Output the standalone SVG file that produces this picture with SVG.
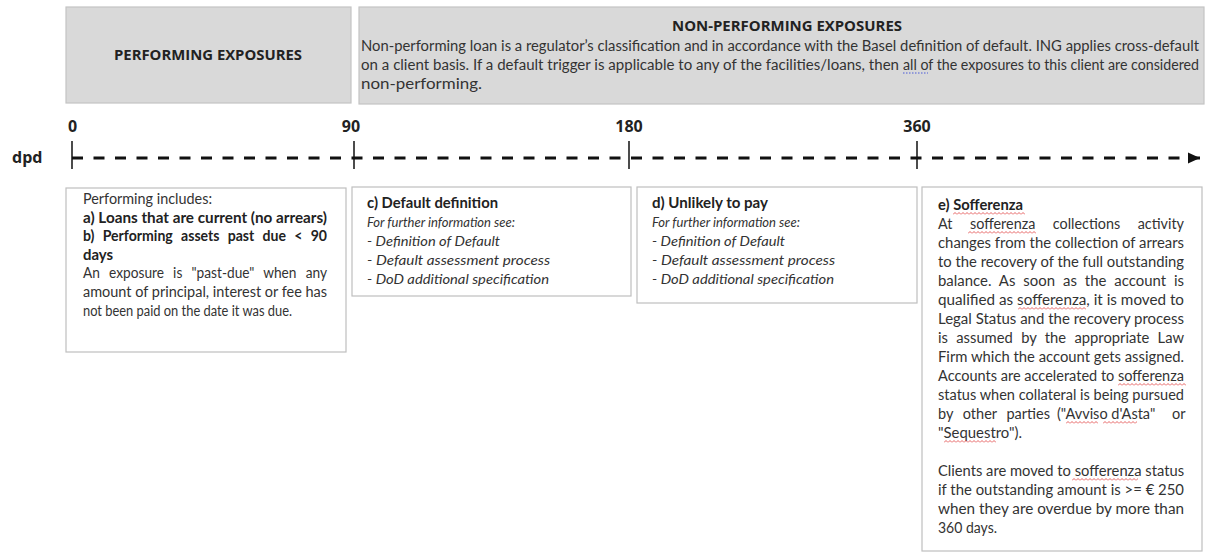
<svg xmlns="http://www.w3.org/2000/svg" width="1206" height="553" viewBox="0 0 1206 553">
<style>
.bg{fill:#ffffff}
.hdr{fill:#d9d9d9;stroke:#c4c4c4;stroke-width:1.2}
.box{fill:#ffffff;stroke:#bfbfbf;stroke-width:1.2}
text{font-family:Lato,"Open Sans","Liberation Sans",sans-serif;fill:#333333;font-size:14.5px}
.ttl{font-family:"Open Sans",Lato,sans-serif;font-weight:700;fill:#222;font-size:13.5px}
.b{font-weight:700;fill:#222}
.i{font-style:italic;font-size:13.5px}
.ax{font-family:"Open Sans",Lato,sans-serif;font-weight:700;fill:#222;font-size:16px}
.tick{stroke:#111;stroke-width:1.5}
.dash{stroke:#111;stroke-width:3;stroke-dasharray:11 10.5;fill:none}
</style>
<defs>
<marker id="arrow" markerUnits="userSpaceOnUse" markerWidth="13" markerHeight="12" refX="12" refY="6" orient="auto">
<path d="M0 0.5 L12 6 L0 11.5 Z" fill="#111"/>
</marker>
<pattern id="wavy" width="4" height="3" patternUnits="userSpaceOnUse">
<path d="M0 2.5 L2 0.5 L4 2.5" fill="none" stroke="#e03a3a" stroke-width="0.8"/>
</pattern>
</defs>
<rect class="bg" x="0" y="0" width="1206" height="553"/>

<g id="performing-header">
<rect class="hdr" x="66" y="7" width="285" height="96"/>
<text class="ttl" x="208" y="60" text-anchor="middle" textLength="188" lengthAdjust="spacingAndGlyphs">PERFORMING EXPOSURES</text>
</g>

<g id="nonperforming-header">
<rect class="hdr" x="359" y="7" width="845" height="97"/>
<text class="ttl" x="787" y="31" text-anchor="middle" textLength="230" lengthAdjust="spacingAndGlyphs">NON-PERFORMING EXPOSURES</text>
<text x="361" y="51" textLength="838" lengthAdjust="spacingAndGlyphs">Non-performing loan is a regulator’s classification and in accordance with the Basel definition of default. ING applies cross-default</text>
<text y="70"><tspan x="361" textLength="538" lengthAdjust="spacingAndGlyphs">on a client basis. If a default trigger is applicable to any of the facilities/loans, then</tspan><tspan x="903" textLength="296" lengthAdjust="spacingAndGlyphs">all of the exposures to this client are considered</tspan></text>
<text x="361" y="89" textLength="121" lengthAdjust="spacingAndGlyphs">non-performing.</text>
<line x1="903" y1="73" x2="928" y2="73" stroke="#4a5ad8" stroke-width="1" stroke-dasharray="1.5 1.5"/>
</g>

<g id="connectors">
<text class="ax" x="12" y="163">dpd</text>
<line class="dash" x1="72" y1="158" x2="1200" y2="158" marker-end="url(#arrow)"/>
<line class="tick" x1="72" y1="141" x2="72" y2="169"/>
<line class="tick" x1="354" y1="141" x2="354" y2="169"/>
<line class="tick" x1="629" y1="141" x2="629" y2="169"/>
<line class="tick" x1="917" y1="141" x2="917" y2="169"/>
<text class="ax" x="68" y="132">0</text>
<text class="ax" x="351" y="132" text-anchor="middle">90</text>
<text class="ax" x="629" y="132" text-anchor="middle">180</text>
<text class="ax" x="917" y="132" text-anchor="middle">360</text>
</g>

<g id="box-a">
<rect class="box" x="66" y="188" width="280" height="164"/>
<text x="83" y="204" textLength="129" lengthAdjust="spacingAndGlyphs">Performing includes:</text>
<text class="b" x="83" y="222.6" textLength="244" lengthAdjust="spacingAndGlyphs">a) Loans that are current (no arrears)</text>
<text class="b" x="83" y="241.2" word-spacing="5" textLength="244" lengthAdjust="spacingAndGlyphs">b) Performing assets past due &lt; 90</text>
<text class="b" x="83" y="259.8" textLength="30" lengthAdjust="spacingAndGlyphs">days</text>
<text x="83" y="278.4" word-spacing="6" textLength="244" lengthAdjust="spacingAndGlyphs">An exposure is "past-due" when any</text>
<text x="83" y="297" textLength="244" lengthAdjust="spacingAndGlyphs">amount of principal, interest or fee has</text>
<text x="83" y="315.6" textLength="209" lengthAdjust="spacingAndGlyphs">not been paid on the date it was due.</text>
</g>

<g id="box-c">
<rect class="box" x="352" y="187" width="279" height="109"/>
<text class="b" x="367" y="208" textLength="131" lengthAdjust="spacingAndGlyphs">c) Default definition</text>
<text class="i" x="367" y="227" textLength="148" lengthAdjust="spacingAndGlyphs">For further information see:</text>
<text class="i" x="367" y="246" textLength="133" lengthAdjust="spacingAndGlyphs">- Definition of Default</text>
<text class="i" x="367" y="265" textLength="183" lengthAdjust="spacingAndGlyphs">- Default assessment process</text>
<text class="i" x="367" y="284" textLength="182" lengthAdjust="spacingAndGlyphs">- DoD additional specification</text>
</g>

<g id="box-d">
<rect class="box" x="637" y="187" width="280" height="116"/>
<text class="b" x="652" y="208" textLength="116" lengthAdjust="spacingAndGlyphs">d) Unlikely to pay</text>
<text class="i" x="652" y="227" textLength="148" lengthAdjust="spacingAndGlyphs">For further information see:</text>
<text class="i" x="652" y="246" textLength="133" lengthAdjust="spacingAndGlyphs">- Definition of Default</text>
<text class="i" x="652" y="265" textLength="183" lengthAdjust="spacingAndGlyphs">- Default assessment process</text>
<text class="i" x="652" y="284" textLength="182" lengthAdjust="spacingAndGlyphs">- DoD additional specification</text>
</g>

<g id="box-e">
<rect class="box" x="922" y="187" width="280" height="364"/>
<text class="b" x="938" y="210" textLength="85" lengthAdjust="spacingAndGlyphs">e) Sofferenza</text>
<text x="938" y="229" word-spacing="14" textLength="246" lengthAdjust="spacingAndGlyphs">At sofferenza collections activity</text>
<text x="938" y="248" textLength="246" lengthAdjust="spacingAndGlyphs">changes from the collection of arrears</text>
<text x="938" y="267" textLength="246" lengthAdjust="spacingAndGlyphs">to the recovery of the full outstanding</text>
<text x="938" y="286" word-spacing="4" textLength="246" lengthAdjust="spacingAndGlyphs">balance. As soon as the account is</text>
<text x="938" y="305" textLength="246" lengthAdjust="spacingAndGlyphs">qualified as sofferenza, it is moved to</text>
<text x="938" y="324" textLength="246" lengthAdjust="spacingAndGlyphs">Legal Status and the recovery process</text>
<text x="938" y="343" word-spacing="4.5" textLength="246" lengthAdjust="spacingAndGlyphs">is assumed by the appropriate Law</text>
<text x="938" y="362" textLength="246" lengthAdjust="spacingAndGlyphs">Firm which the account gets assigned.</text>
<text x="938" y="381" textLength="246" lengthAdjust="spacingAndGlyphs">Accounts are accelerated to sofferenza</text>
<text x="938" y="400" textLength="246" lengthAdjust="spacingAndGlyphs">status when collateral is being pursued</text>
<text y="419"><tspan x="938" word-spacing="6">by other parties</tspan><tspan x="1057">("Avviso d'Asta"</tspan><tspan x="1172">or</tspan></text>
<text x="938" y="438" textLength="84" lengthAdjust="spacingAndGlyphs">"Sequestro").</text>
<text x="938" y="476" textLength="246" lengthAdjust="spacingAndGlyphs">Clients are moved to sofferenza status</text>
<text x="938" y="495" textLength="246" lengthAdjust="spacingAndGlyphs">if the outstanding amount is &gt;= € 250</text>
<text x="938" y="514" textLength="246" lengthAdjust="spacingAndGlyphs">when they are overdue by more than</text>
<text x="938" y="533" textLength="59" lengthAdjust="spacingAndGlyphs">360 days.</text>
<rect transform="translate(953,212)" width="72" height="3" fill="url(#wavy)"/>
<rect transform="translate(968,231)" width="68" height="3" fill="url(#wavy)"/>
<rect transform="translate(1018,307)" width="68" height="3" fill="url(#wavy)"/>
<rect transform="translate(1118,383)" width="68" height="3" fill="url(#wavy)"/>
<rect transform="translate(1066,421)" width="32" height="3" fill="url(#wavy)"/>
<rect transform="translate(1103,421)" width="34" height="3" fill="url(#wavy)"/>
<rect transform="translate(944,440)" width="52" height="3" fill="url(#wavy)"/>
<rect transform="translate(1072,478)" width="66" height="3" fill="url(#wavy)"/>
</g>
</svg>
